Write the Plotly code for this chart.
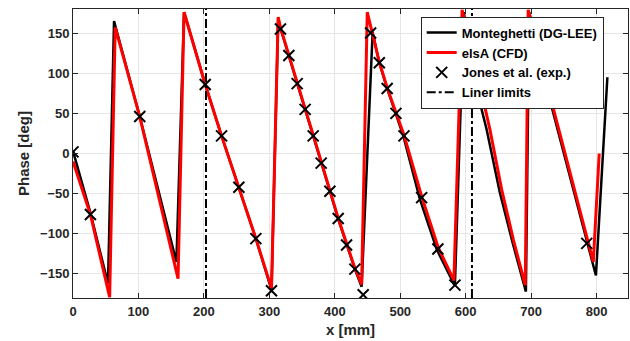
import plotly.graph_objects as go

# ---- data ----
MONT_X = [0, 26.6, 53.5, 62.7, 102, 125, 158, 169.7, 202, 227, 253.4, 279.4, 303.3,
          313.5, 317, 330, 342.5, 355, 367, 379, 392.5, 405, 418, 430.7, 441,
          457.8, 468, 480, 493, 505, 530, 556, 583.5,
          597, 613, 632, 652, 672, 692,
          697, 723, 760, 799, 816.5]
MONT_Y = [3, -74, -162, 165, 46, -28, -135, 176, 86, 22, -42, -106, -170,
          168, 156, 122, 87, 54, 22, -12, -47, -81, -114, -144, -166,
          151, 113, 81, 50, 21, -57, -120, -165,
          176, 92, 30, -48, -112, -172,
          176, 84, -32, -152, 95]

ELSA_X = [0, 26.6, 56, 64.5, 102, 122, 160.5, 169.7, 202, 227, 253.4, 279.4, 303.3,
          313.5, 317, 330, 342.5, 355, 367, 379, 392.5, 405, 418, 430.7, 441,
          449.6, 468, 480, 493.4, 505.7, 533, 558, 582,
          594.5, 622, 637, 655, 673, 691,
          695.5, 725, 760, 795, 804]
ELSA_Y = [-10, -76, -179, 157, 46, -22, -156, 176, 86, 22, -42, -106, -168,
          170, 157, 123, 88, 55, 23, -11, -46, -80, -113, -143, -163,
          176, 114, 82, 51, 23, -54, -117, -158,
          179, 84, 30, -45, -108, -164,
          179, 84, -26, -135, 0]

JONES_X = [0, 26.6, 102, 202, 227, 253.4, 279.4, 303.3,
           317, 329.8, 342.5, 354.7, 367, 379.2, 392.5, 405.2, 418, 430.7, 443.4,
           454.7, 468, 480, 493.4, 505.7, 532.7, 557.5, 583.6, 785]
JONES_Y = [2, -76, 46, 86, 22, -42, -106, -171,
           155, 122, 87, 55, 22, -12, -47, -81, -114, -144, -176,
           150, 113, 81, 50, 22, -55, -119, -164, -112]

LINER_X = [203.2, 609.6]
X_RANGE = [0, 848]
Y_RANGE = [-180, 180]
X_TICKS = [0, 100, 200, 300, 400, 500, 600, 700, 800]
Y_TICKS = [-150, -100, -50, 0, 50, 100, 150]

FONT = "Liberation Sans, Arial, Helvetica, sans-serif"
AX_COLOR = "#262626"

fig = go.Figure()
fig.add_trace(go.Scatter(x=MONT_X, y=MONT_Y, mode="lines", name="Monteghetti (DG-LEE)",
                         line=dict(color="black", width=2.5)))
fig.add_trace(go.Scatter(x=ELSA_X, y=ELSA_Y, mode="lines", name="elsA (CFD)",
                         line=dict(color="#ff0000", width=3)))
fig.add_trace(go.Scatter(x=JONES_X, y=JONES_Y, mode="markers", name="Jones et al. (exp.)",
                         marker=dict(symbol="x-thin", size=11, color="black",
                                     line=dict(color="black", width=2))))
lx, ly = [], []
for v in LINER_X:
    lx += [v, v, None]
    ly += [Y_RANGE[0], Y_RANGE[1], None]
fig.add_trace(go.Scatter(x=lx, y=ly, mode="lines", name="Liner limits",
                         line=dict(color="black", width=2, dash="dashdot")))

axis_common = dict(
    showline=True, linecolor=AX_COLOR, linewidth=1, mirror="ticks",
    ticks="inside", ticklen=5, tickcolor=AX_COLOR, tickwidth=1,
    showgrid=True, gridcolor="#e6e6e6", gridwidth=1, zeroline=False,
    tickfont=dict(family=FONT, size=13, color=AX_COLOR, weight="bold"),
)

fig.update_layout(
    width=630, height=341,
    margin=dict(l=73, r=2, t=9, b=43),
    paper_bgcolor="white", plot_bgcolor="white",
    font=dict(family=FONT, color=AX_COLOR),
    xaxis=dict(range=X_RANGE, tickvals=X_TICKS, ticklabelstandoff=1,
               title=dict(text="x [mm]", font=dict(family=FONT, size=15, color=AX_COLOR, weight="bold"),
                          standoff=6),
               **axis_common),
    yaxis=dict(range=Y_RANGE, tickvals=Y_TICKS,
               title=dict(text="Phase [deg]", font=dict(family=FONT, size=15, color=AX_COLOR, weight="bold"),
                          standoff=6),
               **axis_common),
    legend=dict(x=0.6265, y=0.9736, xanchor="left", yanchor="top",
                bgcolor="white", bordercolor=AX_COLOR, borderwidth=1,
                font=dict(family=FONT, size=13, color="black", weight="bold"),
                tracegroupgap=0),
    showlegend=True,
)

fig.write_html("out.html", config={"displayModeBar": False},
               post_script="document.body.style.margin='0';document.body.style.padding='0';")
